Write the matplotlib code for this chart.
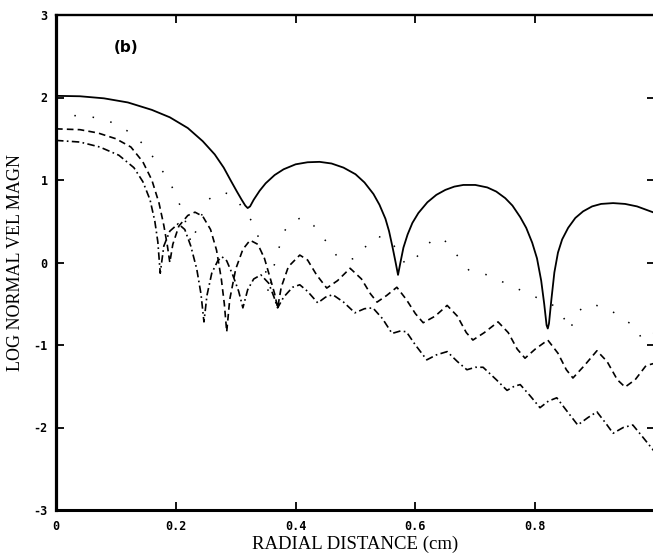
import numpy as np
import matplotlib
matplotlib.use("Agg")
from matplotlib import pyplot as plt

# values (b)
x_ticks = [0, 0.2, 0.4, 0.6, 0.8, 1.0]
x_ticklabels = ["0", "0.2", "0.4", "0.6", "0.8", "1"]
y_ticks = [-3, -2, -1, 0, 1, 2, 3]
y_ticklabels = ["-3", "-2", "-1", "0", "1", "2", "3"]

# solid curve
solid_x = [0, 0.04, 0.08, 0.12, 0.16, 0.19, 0.22, 0.245, 0.265, 0.28, 0.292, 0.302,
           0.31, 0.316, 0.32, 0.324, 0.33, 0.34, 0.35, 0.365, 0.38, 0.40, 0.42, 0.44,
           0.46, 0.48, 0.50, 0.515, 0.53, 0.54, 0.55, 0.556, 0.562, 0.567, 0.571,
           0.575, 0.58, 0.587, 0.595, 0.605, 0.62, 0.635, 0.65, 0.665, 0.68, 0.70,
           0.72, 0.735, 0.75, 0.762, 0.775, 0.785, 0.795, 0.803, 0.81, 0.815, 0.819,
           0.821, 0.823, 0.827, 0.832, 0.838, 0.845, 0.855, 0.867, 0.88, 0.895, 0.91,
           0.93, 0.95, 0.97, 0.985, 1.0]
solid_y = [2.02, 2.015, 1.99, 1.94, 1.85, 1.76, 1.63, 1.47, 1.31, 1.15, 0.99, 0.86,
           0.76, 0.69, 0.66, 0.68, 0.76, 0.87, 0.96, 1.06, 1.13, 1.19, 1.215, 1.22,
           1.20, 1.15, 1.07, 0.97, 0.83, 0.70, 0.53, 0.38, 0.18, 0.0, -0.15,
           0.0, 0.18, 0.34, 0.48, 0.60, 0.73, 0.82, 0.88, 0.92, 0.94, 0.94,
           0.91, 0.86, 0.78, 0.69, 0.55, 0.42, 0.24, 0.05, -0.22, -0.5, -0.76,
           -0.80, -0.74, -0.45, -0.12, 0.12, 0.28, 0.42, 0.54, 0.62, 0.68, 0.71,
           0.72, 0.71, 0.68, 0.64, 0.60]

# dotted curve
dot_x = [0, 0.04, 0.073, 0.1, 0.118, 0.135, 0.155, 0.17, 0.185, 0.199, 0.212, 0.22,
         0.226, 0.232, 0.24, 0.254, 0.268, 0.28, 0.292, 0.302, 0.315, 0.332, 0.342,
         0.35, 0.355, 0.36, 0.366, 0.381, 0.395, 0.412, 0.43, 0.445, 0.461, 0.469,
         0.485, 0.499, 0.515, 0.536, 0.558, 0.572, 0.584, 0.60, 0.625, 0.645, 0.666,
         0.69, 0.72, 0.75, 0.78, 0.81, 0.836, 0.85, 0.858, 0.87, 0.89, 0.92, 0.95,
         0.97, 0.978, 1.0]
dot_y = [1.78, 1.78, 1.75, 1.68, 1.60, 1.51, 1.36, 1.18, 1.04, 0.84, 0.60, 0.40,
         0.22, 0.35, 0.52, 0.76, 0.83, 0.85, 0.82, 0.76, 0.62, 0.45, 0.2,
         -0.1, -0.4, -0.2, 0.03, 0.38, 0.50, 0.55, 0.45, 0.3, 0.19, 0.07,
         0.03, 0.05, 0.18, 0.32, 0.27, 0.12, -0.03, 0.05, 0.25, 0.3, 0.12,
         -0.1, -0.15, -0.25, -0.35, -0.45, -0.54, -0.7, -0.82, -0.6, -0.5, -0.55, -0.7,
         -0.79, -0.94, -0.85]

# dashed curve
dash_x = [0, 0.04, 0.07, 0.1, 0.125, 0.145, 0.16, 0.172, 0.18, 0.186, 0.19, 0.195,
          0.205, 0.22, 0.232, 0.245, 0.258, 0.268, 0.276, 0.281, 0.285, 0.29, 0.30,
          0.312, 0.324, 0.337, 0.348, 0.358, 0.365, 0.37, 0.376, 0.388, 0.407, 0.42,
          0.435, 0.452, 0.47, 0.491, 0.51, 0.525, 0.536, 0.552, 0.569, 0.585, 0.60,
          0.613, 0.633, 0.653, 0.67, 0.685, 0.696, 0.715, 0.738, 0.755, 0.77, 0.783,
          0.80, 0.821, 0.838, 0.852, 0.863, 0.882, 0.903, 0.92, 0.937, 0.95, 0.967,
          0.985, 1.0]
dash_y = [1.62, 1.61, 1.57, 1.50, 1.40, 1.22, 1.00, 0.72, 0.45, 0.2, 0.0, 0.22,
          0.44, 0.57, 0.61, 0.56, 0.40, 0.15, -0.2, -0.5, -0.84, -0.45, -0.08,
          0.16, 0.27, 0.22, 0.05, -0.2, -0.38, -0.55, -0.3, -0.05, 0.09, 0.03,
          -0.15, -0.31, -0.22, -0.07, -0.2, -0.38, -0.48, -0.40, -0.30, -0.45, -0.62,
          -0.73, -0.65, -0.52, -0.65, -0.85, -0.94, -0.85, -0.72, -0.85, -1.05, -1.16,
          -1.05, -0.94, -1.1, -1.3, -1.40, -1.25, -1.07, -1.2, -1.42, -1.51, -1.42,
          -1.25, -1.22]

# dash-dot curve
dd_x = [0, 0.04, 0.073, 0.105, 0.13, 0.145, 0.157, 0.165, 0.17, 0.174, 0.18, 0.19,
        0.204, 0.215, 0.225, 0.235, 0.242, 0.247, 0.252, 0.26, 0.27, 0.277, 0.285,
        0.295, 0.305, 0.312, 0.32, 0.33, 0.342, 0.355, 0.364, 0.37, 0.38, 0.395,
        0.407, 0.42, 0.437, 0.45, 0.462, 0.48, 0.499, 0.515, 0.529, 0.545, 0.561,
        0.575, 0.585, 0.60, 0.619, 0.635, 0.653, 0.67, 0.686, 0.70, 0.713, 0.735,
        0.753, 0.765, 0.775, 0.792, 0.808, 0.822, 0.836, 0.855, 0.871, 0.888, 0.903,
        0.918, 0.93, 0.947, 0.963, 0.98, 1.0]
dd_y = [1.48, 1.46, 1.40, 1.30, 1.15, 0.98, 0.76, 0.50, 0.25, -0.13, 0.2, 0.38,
        0.47, 0.40, 0.20, -0.08, -0.38, -0.72, -0.4, -0.13, 0.02, 0.07, 0.02,
        -0.15, -0.35, -0.55, -0.33, -0.2, -0.15, -0.25, -0.42, -0.55, -0.42, -0.30,
        -0.27, -0.35, -0.49, -0.42, -0.39, -0.48, -0.61, -0.56, -0.55, -0.68, -0.86,
        -0.83, -0.84, -1.0, -1.18, -1.12, -1.08, -1.2, -1.30, -1.27, -1.27, -1.42,
        -1.55, -1.50, -1.48, -1.62, -1.76, -1.68, -1.64, -1.82, -1.97, -1.88, -1.81,
        -1.95, -2.07, -2.0, -1.97, -2.12, -2.30]


fig = plt.figure(figsize=(6.53, 5.57), dpi=100)
ax = fig.add_axes([56/653, 47/557, 599/653, 495/557])

ax.plot(solid_x, solid_y, color="black", lw=1.3, solid_joinstyle="round")
ax.plot(dot_x, dot_y, color="black", lw=1.1, linestyle=(0, (1, 11)))
ax.plot(dash_x, dash_y, color="black", lw=1.2, linestyle=(0, (4, 2.5)))
ax.plot(dd_x, dd_y, color="black", lw=1.2, linestyle=(0, (4.5, 2, 1, 2)))

ax.set_xlim(0, 1)
ax.set_ylim(-3, 3)

ax.set_xticks(x_ticks)
ax.set_xticklabels(x_ticklabels, fontfamily="DejaVu Sans Mono", fontweight="bold", fontsize=8.5)
ax.set_yticks(y_ticks)
ax.set_yticklabels(y_ticklabels, fontfamily="DejaVu Sans Mono", fontweight="bold", fontsize=8.5)
ax.tick_params(direction="in", length=6, width=1.3, top=True, right=True)
ax.tick_params(axis="x", pad=7)
ax.tick_params(axis="y", pad=6)

ax.spines["left"].set_linewidth(2.3)
ax.spines["bottom"].set_linewidth(2.2)
ax.spines["top"].set_linewidth(1.7)
ax.spines["right"].set_linewidth(1.7)

ax.set_xlabel("RADIAL DISTANCE (cm)", fontfamily="Liberation Serif", fontsize=13.5, labelpad=2)
ax.set_ylabel("LOG NORMAL VEL MAGN", fontfamily="Liberation Serif", fontsize=13, va="center")
ax.yaxis.set_label_coords(-0.067, 0.5)

ax.text(0.117, 2.61, "(b)", fontfamily="DejaVu Sans", fontweight="bold", fontsize=11,
        ha="center", va="center")

fig.savefig("out.png", dpi=100)
